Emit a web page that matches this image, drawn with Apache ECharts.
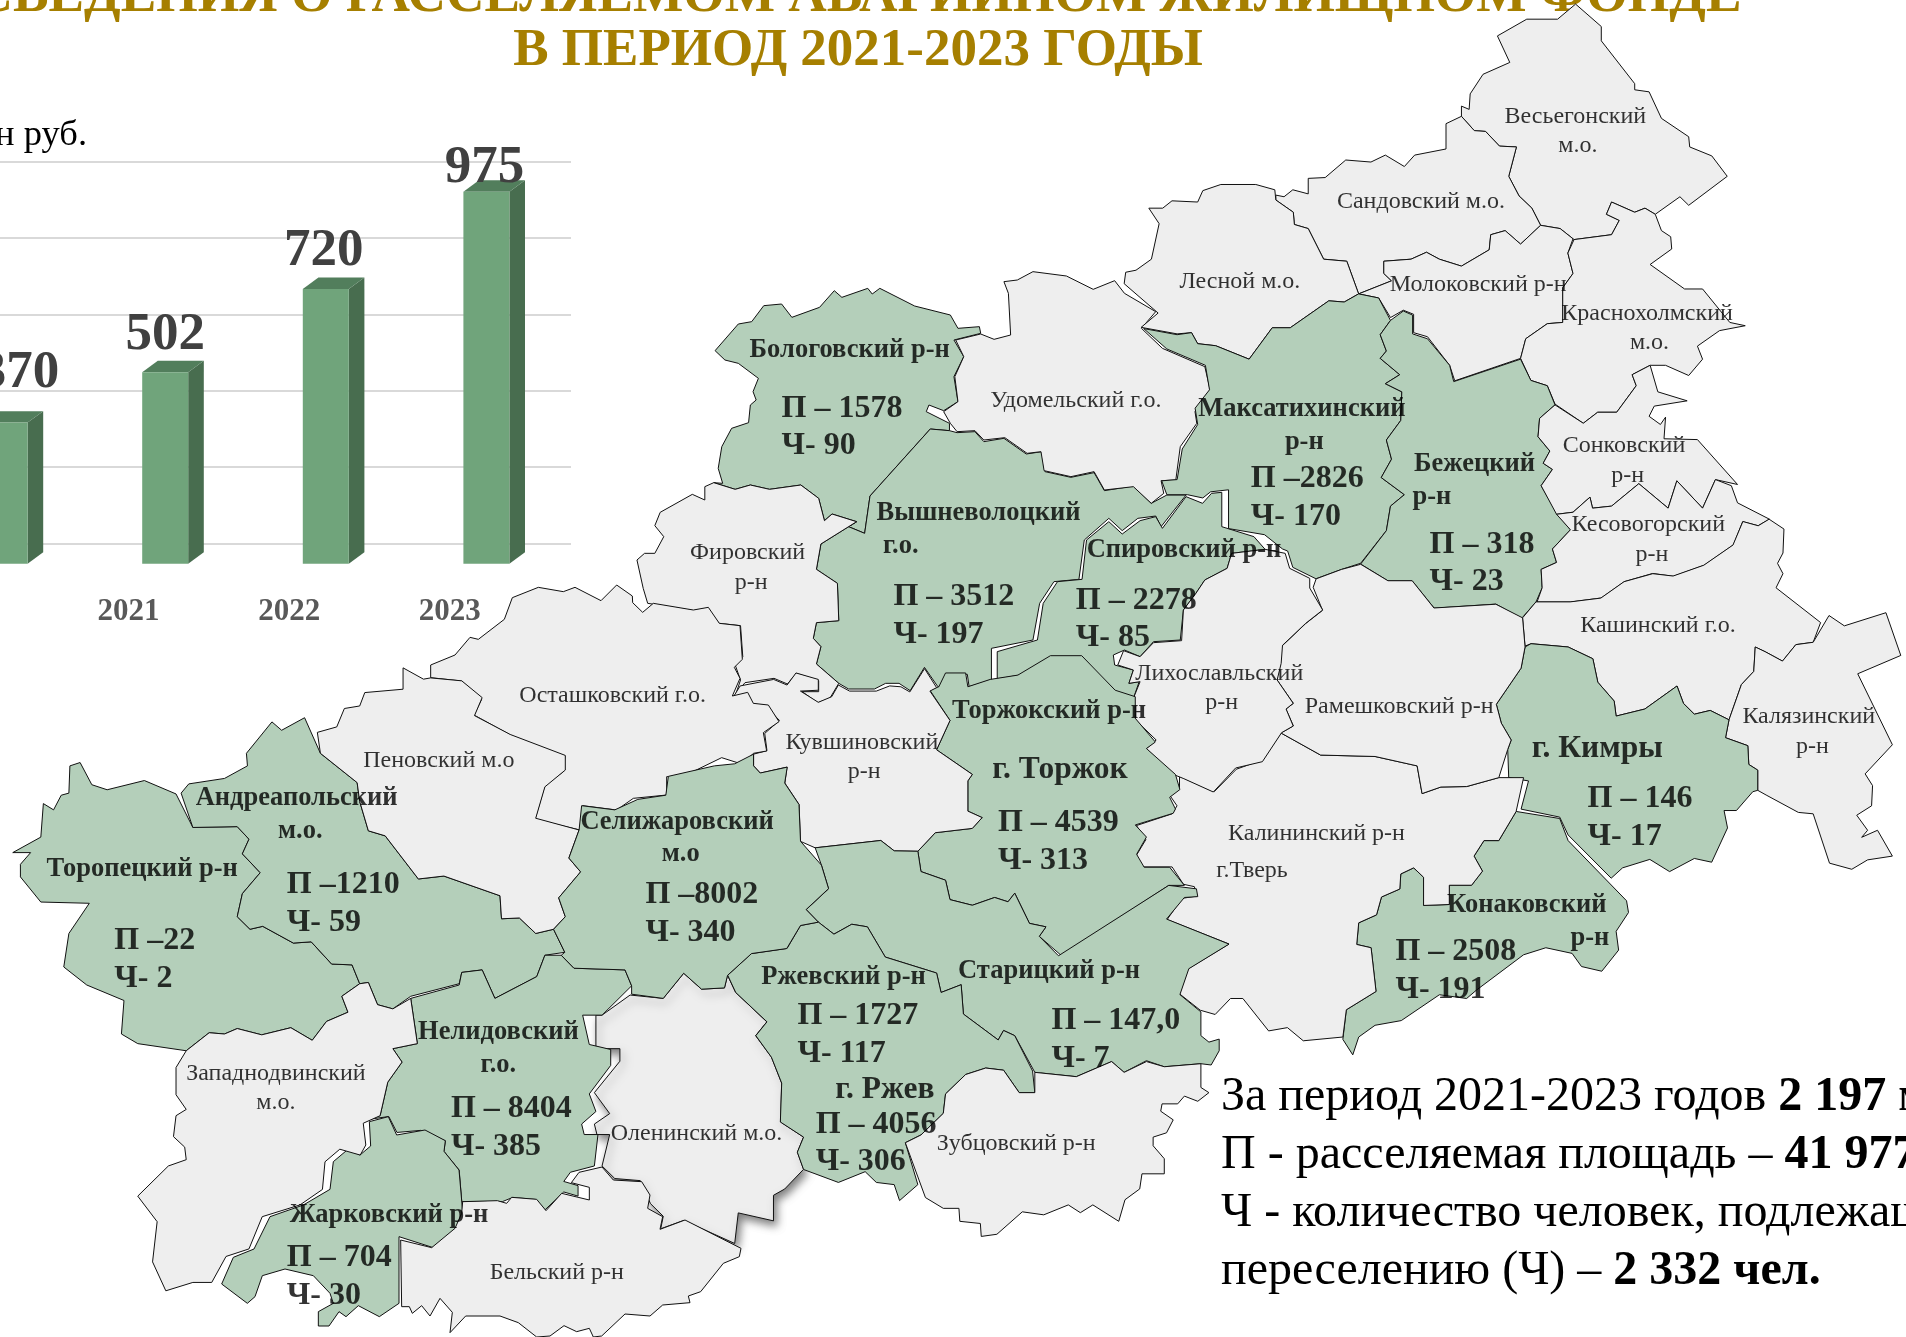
<!DOCTYPE html>
<html>
<head>
<meta charset="utf-8">
<title>Сведения о расселяемом аварийном жилищном фонде</title>
<script src="https://cdn.jsdelivr.net/npm/echarts@6/dist/echarts.min.js"></script>
<style>
html, body { margin: 0; padding: 0; background: #fff; overflow: hidden; }
#main { width: 1906px; height: 1337px; }
</style>
</head>
<body>
<div id="main"></div>
<script>
// bar chart values (млн руб.)
var years = ['2020', '2021', '2022', '2023'];
var amounts = [370, 502, 720, 975];
var amountLift = [49, 37, 37.5, 23.5];
var amountShift = [15, 0, -2, -2];
var axisTicks = [0, 200, 400, 600, 800, 1000];

// crops the outlines were traced on: [left, top, scaleX, scaleY]
var crops = {
    a: [620, 260, 2.24, 3],
    b: [1100, 0, 1.945, 2.45],
    c: [0, 680, 1.96, 2.387],
    d: [700, 660, 2.24, 2.316],
    e: [1130, 600, 2.02, 2.128],
    f: [400, 560, 3, 3],
    g: [380, 1180, 3, 3],
    h: [100, 1100, 3, 3]
};

// districts with resettled housing are green
var greenDistricts = ['Бологовский', 'Вышневолоцкий', 'Спировский', 'Максатихинский', 'Бежецкий', 'Торжокский',
    'Старицкий', 'Ржевский', 'Селижаровский', 'Андреапольский', 'Торопецкий', 'Нелидовский', 'Жарковский',
    'Кимрский', 'Конаковский'];

var outlines = {
    'Оленинский': ['c', '1168,800 1180,800 1235,752 1300,760 1340,700 1375,738 1420,735 1426,705 1442,746 1503,816 1481,849 1512,900 1532,962 1530,1055 1575,1091 1563,1127 1575,1168 1538,1215 1516,1230 1516,1291 1447,1272 1440,1345 1340,1290 1295,1310 1300,1280 1275,1250 1255,1195 1205,1190 1180,1160 1195,1085 1170,1085 1165,1060 1195,1035 1165,985 1215,910 1215,880 1168,880'],
    'Бологовский': ['a', '213,272 265,192 295,185 322,137 362,132 385,172 447,142 480,92 497,112 555,85 565,102 582,85 660,138 740,165 757,205 805,200 808,220 748,240 770,290 748,350 757,425 725,452 692,435 686,455 738,490 738,512 695,507 560,708 548,820 512,800 530,785 475,762 458,782 445,715 405,675 335,688 292,675 258,688 210,668 230,670 220,625 228,560 250,505 288,488 292,435 305,420 298,395 310,355 265,310 235,300'],
    'Вышневолоцкий': ['a', '738,512 755,518 795,515 815,545 860,535 910,582 945,575 952,635 1010,652 1062,638 1085,692 1150,678 1190,730 1225,705 1268,705 1212,800 1200,768 1160,775 1125,812 1095,775 1040,840 1028,958 972,965 940,1030 925,1140 832,1165 832,1260 782,1280 778,1243 740,1243 728,1280 712,1280 682,1222 650,1292 625,1270 595,1270 570,1287 512,1287 490,1270 440,1212 450,1160 433,1135 440,1088 490,1082 487,970 440,928 450,852 530,785 512,800 548,820 560,708 695,507'],
    'Спировский': ['a', '1215,805 1268,710 1305,730 1325,700 1348,697 1348,800 1420,830 1445,868 1370,880 1360,925 1310,960 1290,1000 1262,1050 1255,1140 1195,1145 1165,1190 1130,1170 1105,1185 1108,1215 1150,1230 1140,1270 1163,1265 1150,1315 1110,1305 1038,1198 962,1198 895,1245 845,1257 845,1175 935,1140 948,1030 980,965 1035,958 1045,840 1095,785 1125,822 1165,782 1200,770'],
    'Удомельский': ['a', '860,65 890,60 925,35 1000,48 1060,88 1108,62 1130,100 1200,155 1168,205 1215,265 1310,320 1322,390 1288,455 1292,490 1255,560 1245,660 1212,662 1218,700 1190,730 1150,680 1085,690 1062,635 1010,650 950,632 943,575 912,580 862,533 815,540 795,512 755,515 740,490 725,455 757,425 750,350 770,290 752,240 808,222 838,238 875,225 870,100'],
    'Фировский': ['a', '190,680 210,668 258,688 292,675 335,688 405,675 445,715 458,782 475,762 530,785 450,852 440,928 487,970 490,1082 440,1088 433,1135 450,1160 440,1212 490,1270 470,1315 443,1328 408,1295 445,1295 445,1262 395,1240 375,1272 345,1255 280,1268 260,1300 270,1260 258,1215 275,1190 270,1097 222,1090 195,1045 165,1052 72,1032 62,1030 52,985 38,900 55,880 78,880 98,830 78,797 90,757 162,703 190,720'],
    'Весьегонский': ['b', '703,285 703,260 718,268 720,230 745,182 797,153 773,88 830,47 890,47 925,10 975,65 975,100 1040,205 1040,220 1068,225 1092,290 1145,335 1147,360 1190,382 1220,432 1145,503 1128,482 1080,525 1060,510 1040,520 995,495 985,525 1010,540 995,575 922,587 895,560 857,552 840,510 815,480 795,432 810,360 777,358 750,322 728,320'],
    'Сандовский': ['b', '703,285 728,320 750,322 777,358 810,360 795,432 815,480 840,510 857,552 818,598 788,565 760,575 757,612 703,652 660,635 635,618 605,635 552,640 552,670 567,688 503,720 480,640 435,635 405,560 378,550 376,520 342,490 342,478 358,482 375,465 405,475 405,437 438,435 478,392 527,397 555,380 592,408 612,380 673,365 673,303'],
    'Лесной': ['b', '95,510 122,510 140,492 190,495 200,467 235,452 303,452 340,465 342,490 376,520 378,550 405,560 435,635 480,640 503,720 475,740 445,737 370,803 335,803 290,880 225,847 190,842 178,815 150,818 80,802 113,767 47,695 50,667 70,662 100,635 115,548'],
    'Молоковский': ['b', '503,720 567,688 552,670 552,640 605,635 635,618 660,635 703,652 757,612 760,575 788,565 818,598 857,552 895,560 920,585 910,620 920,670 900,705 900,790 870,793 828,830 818,878 690,933 680,895 637,825 610,815 610,770 590,760 565,778 542,730'],
    'Краснохолмский': ['b', '922,587 995,575 1010,540 985,525 995,495 1040,520 1060,510 1080,525 1092,565 1110,580 1112,610 1070,648 1137,708 1172,708 1225,790 1255,798 1205,810 1162,848 1172,880 1145,920 1100,895 1070,895 1035,918 1043,945 1005,1010 968,1010 940,1037 885,990 870,945 838,932 818,878 828,830 870,793 900,790 900,705 920,670 910,620'],
    'Максатихинский': ['b', '85,805 150,820 178,815 190,842 225,847 290,880 335,803 370,803 445,737 475,740 503,720 542,730 565,785 545,820 557,860 545,878 583,918 555,940 587,960 585,1030 557,1078 567,1125 547,1170 592,1212 565,1240 557,1300 507,1380 470,1395 420,1418 375,1390 365,1350 355,1345 320,1310 250,1295 250,1200 215,1205 200,1220 170,1212 130,1212 120,1178 150,1175 160,1100 190,1040 185,1000 213,955 205,895 130,855'],
    'Бежецкий': ['b', '565,785 590,762 608,772 608,818 637,830 680,895 688,935 818,880 838,932 870,945 885,992 855,1025 852,1070 875,1105 862,1135 880,1150 858,1190 890,1260 915,1298 880,1345 888,1378 858,1395 860,1440 848,1475 820,1515 770,1480 650,1490 607,1423 560,1423 507,1382 557,1300 565,1240 592,1212 547,1170 567,1125 557,1078 585,1030 587,960 555,940 583,918 545,878 557,860 545,820'],
    'Сонковский': ['b', '885,992 940,1037 968,1010 1005,1010 1043,945 1035,918 1070,895 1085,960 1142,982 1078,995 1068,1020 1090,1040 1100,1022 1097,1075 1162,1077 1240,1187 1197,1175 1172,1245 1122,1178 1105,1245 1048,1185 995,1240 958,1245 953,1218 920,1255 888,1260 858,1190 880,1150 862,1135 875,1105 852,1070 855,1025'],
    'Кесовогорский': ['b', '888,1260 920,1255 953,1218 958,1245 995,1240 1048,1185 1105,1245 1122,1178 1172,1245 1197,1175 1228,1190 1240,1232 1302,1272 1280,1288 1250,1278 1232,1335 1175,1385 1115,1412 1075,1405 1020,1425 975,1465 915,1475 850,1475 860,1440 858,1395 888,1378 880,1345 915,1298'],
    'Кашинский': ['e', '793,38 820,4 889,4 951,-4 998,-39 1056,-56 1097,-51 1159,-74 1218,-117 1238,-167 1269,-158 1291,-172 1321,-151 1319,-100 1308,-78 1319,-56 1305,-26 1395,48 1380,90 1345,95 1318,130 1283,110 1263,100 1260,152 1235,180 1210,255 1172,235 1140,243 1118,220 1105,183 1040,232 982,247 978,215 945,175 935,125 885,100 810,93 798,98'],
    'Калязинский': ['e', '1263,100 1283,110 1318,130 1345,95 1380,90 1412,33 1443,55 1527,27 1557,118 1470,157 1540,308 1485,370 1500,395 1498,438 1468,458 1490,490 1478,505 1510,490 1540,545 1490,553 1458,573 1413,560 1380,455 1350,452 1285,415 1268,405 1268,362 1250,350 1248,310 1203,293 1210,255 1235,180 1260,152'],
    'Кимрский': ['e', '798,100 810,93 885,100 935,125 945,175 978,215 982,247 1040,232 1105,183 1118,220 1140,243 1172,235 1210,255 1203,293 1248,310 1250,350 1268,362 1268,405 1258,408 1225,448 1200,448 1207,485 1175,558 1140,550 1090,578 1050,552 995,570 972,592 885,500 868,462 790,445 805,385 765,378 763,318 770,298 750,262 740,222 790,145'],
    'Конаковский': ['e', '780,450 868,465 885,512 1003,640 1007,665 982,705 987,745 953,790 912,780 893,752 840,740 795,755 700,830 680,848 625,840 548,895 495,905 462,930 450,968 430,935 437,872 497,833 487,740 458,733 462,687 498,670 508,632 545,615 547,583 573,570 593,590 593,650 645,648 645,607 690,607 712,577 695,545 715,512 745,512'],
    'Калининский': ['e', '100,375 170,408 215,360 268,340 305,283 385,330 495,333 580,353 590,412 628,398 680,397 745,378 795,378 780,450 745,512 715,512 695,545 712,577 690,607 645,607 645,648 593,650 593,590 573,570 547,583 545,615 508,632 498,670 462,687 458,733 487,740 497,833 437,872 430,930 350,938 318,910 280,917 228,848 203,848 172,882 142,873 100,838 117,785 200,732 75,680 105,635 135,630 130,610 108,605 85,568 25,568 12,545 32,510 13,480 85,455 95,438 80,415 100,400'],
    'Рамешковский': ['e', '376,-45 427,-65 466,-76 521,-41 570,-41 614,17 739,9 793,38 798,100 790,145 740,222 750,262 770,298 763,318 745,378 680,397 628,398 590,412 580,353 495,333 385,330 305,283 330,268 315,232 330,220 297,170 305,100 355,50 389,22 370,-27'],
    'Лихославльский': ['a', '1165,1190 1195,1148 1258,1142 1262,1050 1290,1000 1310,960 1360,925 1370,880 1445,868 1490,880 1500,925 1545,955 1545,984 1574,1050 1536,1090 1484,1156 1481,1210 1472,1260 1508,1330 1492,1347 1508,1398 1482,1418 1439,1505 1379,1524 1329,1596 1263,1556 1239,1543 1179,1466 1201,1440 1155,1380 1150,1315 1165,1265 1140,1270 1150,1230 1115,1215 1128,1172'],
    'Торжокский': ['d', '515,70 535,62 550,30 595,30 600,62 650,45 712,35 785,-10 855,-10 930,70 975,85 975,135 1020,190 1000,205 1065,265 1075,300 1052,318 1065,345 1060,355 975,382 1000,410 978,450 995,480 1052,480 1085,522 1050,522 810,685 760,640 775,618 738,610 705,540 690,560 660,550 610,568 560,555 550,510 495,490 488,443 527,400 610,390 632,365 600,350 600,280 610,265 530,208 560,140'],
    'Кувшиновский': ['d', '310,58 335,72 395,72 425,60 450,62 470,74 503,20 530,64 515,72 560,140 530,208 610,265 600,280 600,350 632,365 610,390 527,400 488,443 435,442 405,418 258,435 225,420 222,335 190,285 195,248 135,262 120,245 120,218 150,210 145,170 178,140 145,105 108,100 75,85 90,60 165,45 195,58 215,30 265,45 265,70 225,72 265,98 295,85'],
    'Старицкий': ['d', '258,435 405,418 435,442 488,443 495,490 550,510 560,555 610,568 660,550 690,560 705,540 738,610 775,618 760,640 803,685 1050,522 1112,530 1115,548 1085,550 1045,600 1185,658 1095,715 1075,775 1122,815 1122,870 1140,885 1163,878 1163,905 1145,938 1122,935 1040,942 1000,928 950,955 922,930 843,965 750,955 705,870 680,858 668,880 590,820 585,752 540,770 530,725 415,688 375,618 340,612 300,635 265,607 238,578 288,530 272,475'],
    'Ржевский': ['d', '62,730 115,680 195,668 225,615 265,607 300,635 340,612 375,618 415,688 530,725 540,770 585,752 590,820 668,880 680,858 705,870 745,952 750,1002 715,1002 680,950 640,945 595,960 550,1005 545,1050 495,1100 460,1118 488,1215 447,1252 435,1215 395,1210 370,1185 310,1210 232,1180 218,1140 232,1105 180,1070 183,980 160,920 125,870 150,838 80,770'],
    'Зубцовский': ['d', '750,955 843,965 922,930 950,955 1000,930 1040,942 1122,935 1122,990 1140,1002 1115,1022 1085,1010 1070,1028 1035,1028 1032,1045 1060,1065 1045,1095 1015,1105 1015,1125 1040,1155 1040,1190 990,1190 985,1225 952,1250 938,1300 880,1262 852,1280 825,1262 770,1285 722,1278 665,1330 630,1335 628,1305 582,1300 580,1270 545,1270 505,1245 460,1118 495,1100 545,1050 550,1005 595,960 640,945 680,950 715,1002 750,1002'],
    'Торопецкий': ['c', '25,412 80,375 85,295 105,310 120,275 135,270 137,205 157,197 180,250 210,262 283,240 345,272 378,352 465,350 488,380 475,415 510,460 475,510 465,565 490,595 515,588 575,628 610,625 650,678 690,680 705,725 670,755 682,793 640,815 612,860 570,830 513,847 465,832 440,845 410,842 365,885 270,868 238,845 243,765 170,728 125,685 135,605 175,533 80,530 40,470 40,440 60,412'],
    'Андреапольский': ['c', '355,270 370,248 440,235 485,205 483,175 533,100 552,120 597,90 628,175 700,245 705,290 722,360 755,372 820,475 870,468 980,515 983,570 1018,568 1050,605 1085,595 1107,650 1068,657 1052,708 970,760 945,692 905,698 900,725 805,755 770,785 740,775 722,722 705,725 690,680 650,678 610,625 575,628 515,588 490,595 465,565 475,510 510,460 475,415 488,380 465,350 378,352'],
    'Нелидовский': ['c', '805,760 900,728 905,698 945,692 970,760 1052,708 1068,657 1100,657 1125,688 1225,692 1238,730 1180,800 1142,800 1155,870 1197,882 1197,920 1155,988 1168,1030 1140,1060 1145,1085 1172,1085 1165,1160 1118,1175 1105,1197 1133,1207 1133,1232 1105,1222 1068,1265 1050,1240 1005,1235 985,1245 905,1245 900,1170 870,1125 873,1100 825,1075 778,1080 762,1042 715,1050 745,1040 760,960 788,912 770,880 818,868'],
    'Жарковский': ['h', '365,552 400,472 462,447 510,350 610,315 690,268 700,185 745,147 780,165 812,138 808,65 865,50 890,105 975,90 1036,122 1032,154 1077,210 1088,336 1085,386 1000,443 897,410 897,610 838,650 775,617 738,650 717,635 687,678 655,678 655,635 700,610 690,580 640,527 555,507 487,527 465,590 442,610'],
    'Западнодвинский': ['c', '365,885 410,842 440,845 465,832 513,847 570,830 612,860 640,815 682,793 670,755 705,725 722,722 740,775 770,785 805,760 818,868 770,880 788,912 760,960 745,1040 712,1058 717,1110 706,1134 666,1120 637,1150 632,1216 588,1253 514,1281 488,1358 443,1376 415,1438 378,1438 325,1458 299,1389 308,1293 270,1232 330,1160 365,1145 362,1115 340,1090 345,1040 365,1025 345,990 345,925'],
    'Бельский': ['g', '248,65 352,62 380,70 395,52 470,58 498,92 545,40 628,60 628,22 574,8 597,-23 666,-39 700,0 785,5 810,45 803,85 848,110 840,148 915,120 1083,205 1078,230 1030,250 962,335 925,348 930,368 848,375 810,408 735,402 665,468 640,471 628,445 590,455 552,437 510,468 470,471 415,428 360,408 257,408 210,458 217,397 180,355 150,408 125,377 97,400 88,380 65,380 62,180 155,203 225,145 245,100'],
    'Осташковский': ['f', '92,315 165,285 210,232 235,238 313,178 337,113 415,82 490,95 525,82 603,122 650,75 697,108 698,128 728,157 760,130 880,150 925,142 958,190 1020,197 1027,298 1003,322 1020,355 997,408 1043,397 1060,430 1105,435 1137,485 1090,518 1100,573 1060,580 1028,613 965,593 848,650 800,650 800,705 700,715 650,750 548,737 540,810 405,778 435,675 490,635 495,588 395,560 222,465 245,418 185,363 92,353'],
    'Пеновский': ['c', '622,125 660,112 675,68 705,62 715,30 790,22 790,-29 830,-2 844,-5 905,2 945,42 930,85 1000,130 1108,180 1108,215 1068,255 1050,330 1135,358 1115,425 1138,458 1095,520 1108,565 1085,595 1050,605 1018,568 983,570 980,515 870,468 820,475 755,372 722,360 705,290 700,245 628,175'],
    'Селижаровский': ['c', '1140,300 1205,310 1250,285 1305,275 1310,230 1400,205 1440,200 1477,177 1477,205 1490,222 1543,208 1538,246 1566,297 1569,385 1610,442 1624,498 1580,548 1604,578 1569,586 1542,641 1473,653 1426,705 1420,735 1375,738 1340,700 1300,760 1238,750 1238,730 1225,692 1125,688 1100,657 1107,650 1085,595 1108,565 1095,520 1138,458 1115,425 1135,358']
};

// map captions, in the coordinates of the 1568 wide view: [text, x, y]
var plainLabels = [
    ['Весьегонский', 1296, 95], ['м.о.', 1298, 119], ['Сандовский м.о.', 1169, 165], ['Лесной м.о.', 1020, 231],
    ['Молоковский р-н', 1216, 233], ['Краснохолмский', 1355, 257], ['м.о.', 1357, 281], ['Удомельский г.о.', 885, 329],
    ['Сонковский', 1336, 366], ['р-н', 1339, 390], ['Кесовогорский', 1356, 431], ['р-н', 1359, 455],
    ['Кашинский г.о.', 1364, 514], ['Калязинский', 1488, 589], ['р-н', 1491, 613], ['Фировский', 615, 454],
    ['р-н', 618, 478], ['Лихославльский', 1003, 553], ['р-н', 1005, 577], ['Рамешковский р-н', 1151, 580],
    ['Осташковский г.о.', 504, 571], ['Кувшиновский', 709, 610], ['р-н', 711, 634], ['Пеновский м.о', 361, 625],
    ['Калининский р-н', 1083, 685], ['г.Тверь', 1030, 715], ['Западнодвинский', 227, 882], ['м.о.', 227, 906],
    ['Оленинский м.о.', 573, 932], ['Зубцовский р-н', 836, 940], ['Бельский р-н', 458, 1046]
];
var boldLabels = [
    ['Бологовский р-н', 699, 287], ['Максатихинский', 1071, 336], ['р-н', 1073, 363], ['Бежецкий', 1213, 381],
    ['р-н', 1178, 408], ['Вышневолоцкий', 805, 421], ['г.о.', 741, 448], ['Спировский р-н', 974, 452],
    ['Торжокский р-н', 863, 584], ['Андреапольский', 244, 656], ['м.о.', 247, 683], ['Селижаровский', 557, 675],
    ['м.о', 560, 702], ['Торопецкий р-н', 117, 714], ['Конаковский', 1256, 744], ['р-н', 1308, 771],
    ['Ржевский р-н', 694, 803], ['Старицкий р-н', 863, 798], ['Нелидовский', 410, 848], ['г.о.', 410, 875],
    ['Жарковский р-н', 320, 999]
];
var cityLabels = [['г. Торжок', 872, 631], ['г. Кимры', 1314, 614], ['г. Ржев', 728, 895]];
var figureLabels = [
    ['П – 1578', 643, 334], ['Ч- 90', 643, 365], ['П –2826', 1029, 392], ['Ч- 170', 1029, 423],
    ['П – 318', 1176, 446], ['Ч- 23', 1176, 477], ['П – 3512', 735, 489], ['Ч- 197', 735, 520],
    ['П – 2278', 885, 492], ['Ч- 85', 885, 523], ['П – 4539', 821, 675], ['Ч- 313', 821, 706],
    ['П – 146', 1306, 655], ['Ч- 17', 1306, 686], ['П –1210', 236, 726], ['Ч- 59', 236, 757],
    ['П –8002', 531, 734], ['Ч- 340', 531, 765], ['П –22', 94, 772], ['Ч- 2', 94, 803],
    ['П – 2508', 1148, 781], ['Ч- 191', 1148, 812], ['П – 1727', 656, 834], ['Ч- 117', 656, 865],
    ['П – 147,0', 865, 838], ['Ч- 7', 865, 869], ['П – 4056', 671, 923], ['Ч- 306', 671, 954],
    ['П – 8404', 371, 910], ['Ч- 385', 371, 941], ['П – 704', 236, 1033], ['Ч- 30', 236, 1064]
];

var SERIF = '"Liberation Serif", serif';
var VIEW = 1906 / 1568;

function outlineToRing(entry) {
    var crop = crops[entry[0]];
    var ring = entry[1].split(' ').map(function (pair) {
        var p = pair.split(',');
        return [crop[0] + p[0] / crop[2], -(crop[1] + p[1] / crop[3])];
    });
    ring.push(ring[0]);
    return ring;
}

var features = Object.keys(outlines).map(function (name) {
    return {
        type: 'Feature',
        properties: { name: name },
        geometry: { type: 'Polygon', coordinates: [outlineToRing(outlines[name])] }
    };
});
echarts.registerMap('tver', { type: 'FeatureCollection', features: features });

function labelPoints(list, nudge) {
    return list.map(function (item) {
        return { name: item[0], value: [item[1] * VIEW, -(item[2] * VIEW + nudge)] };
    });
}

function labelSeries(list, size, bold, align, nudge) {
    return {
        type: 'scatter',
        coordinateSystem: 'geo',
        geoIndex: 0,
        symbolSize: 0,
        silent: true,
        z: 5,
        data: labelPoints(list, nudge),
        label: {
            show: true,
            position: 'inside',
            formatter: '{b}',
            align: align,
            verticalAlign: 'middle',
            fontFamily: SERIF,
            fontSize: size,
            fontWeight: bold ? 'bold' : 'normal',
            color: '#000'
        }
    };
}

// front, side and top faces of a column, the boxes in the picture are drawn in 3D
function renderBar(params, api) {
    var idx = api.value(0);
    var val = api.value(1);
    var top = api.coord([idx, val]);
    var base = api.coord([idx, 0]);
    var cx = top[0] + 36.6;
    var half = 23;
    var dx = 15.6;
    var dy = 11.4;
    var left = cx - half;
    var right = cx + half;
    return {
        type: 'group',
        children: [
            { type: 'polygon', shape: { points: [[right, top[1]], [right + dx, top[1] - dy], [right + dx, base[1] - dy], [right, base[1]]] }, style: { fill: '#486d4f' } },
            { type: 'polygon', shape: { points: [[left, top[1]], [left + dx, top[1] - dy], [right + dx, top[1] - dy], [right, top[1]]] }, style: { fill: '#527e5c' } },
            { type: 'rect', shape: { x: left, y: top[1], width: right - left, height: base[1] - top[1] }, style: { fill: '#70a47b' } },
            {
                type: 'text',
                style: {
                    text: String(val),
                    x: cx + amountShift[params.dataIndex],
                    y: top[1] - amountLift[params.dataIndex],
                    align: 'center',
                    verticalAlign: 'middle',
                    font: 'bold 53px ' + SERIF,
                    fill: '#404040'
                }
            }
        ]
    };
}

var myChart = echarts.init(document.getElementById('main'), null, { renderer: 'canvas' });

var option = {
    animation: false,
    backgroundColor: '#fff',
    grid: [
        { left: -20, top: 161.6, width: 591, height: 381.7, outerBoundsMode: 'none' },
        { left: -112.3, top: 182.2, width: 642.4, height: 381.5, outerBoundsMode: 'none' }
    ],
    xAxis: [
        { gridIndex: 0, type: 'category', data: years, show: false },
        {
            gridIndex: 1,
            type: 'category',
            data: years,
            axisLine: { show: false },
            axisTick: { show: false },
            axisLabel: { interval: 0, margin: 33, fontFamily: SERIF, fontWeight: 'bold', fontSize: 31, color: '#595959' }
        }
    ],
    yAxis: [
        {
            gridIndex: 0,
            type: 'value',
            min: axisTicks[0],
            max: axisTicks[axisTicks.length - 1],
            interval: axisTicks[1],
            axisLine: { show: false },
            axisTick: { show: false },
            axisLabel: { show: false },
            splitLine: { lineStyle: { color: '#d9d9d9', width: 2 } }
        },
        {
            gridIndex: 1,
            type: 'value',
            min: axisTicks[0],
            max: axisTicks[axisTicks.length - 1],
            show: false
        }
    ],
    geo: {
        map: 'tver',
        left: 0,
        top: 0,
        width: 1906,
        height: 1337,
        aspectScale: 1,
        boundingCoords: [[0, 0], [1906, -1337]],
        roam: false,
        silent: true,
        label: { show: false },
        itemStyle: { areaColor: '#eeeeee', borderColor: '#111', borderWidth: 1 },
        regions: greenDistricts.map(function (name) {
            return { name: name, itemStyle: { areaColor: '#b4cfba' } };
        }).concat([{
            name: 'Оленинский',
            itemStyle: { shadowColor: 'rgba(0,0,0,0.5)', shadowBlur: 8, shadowOffsetX: 3, shadowOffsetY: 5 }
        }])
    },
    series: [
        {
            type: 'custom',
            xAxisIndex: 1,
            yAxisIndex: 1,
            renderItem: renderBar,
            encode: { x: 0, y: 1 },
            data: amounts.map(function (v, i) { return [i, v]; }),
            clip: false
        },
        labelSeries(plainLabels, 24, false, 'center', 1.2),
        labelSeries(boldLabels, 26.5, true, 'center', 1.2),
        labelSeries(cityLabels, 31.5, true, 'center', 2.4),
        labelSeries(figureLabels, 32, true, 'left', 2.4)
    ],
    graphic: [
        { type: 'text', style: { x: 858, y: 23.6, text: 'СВЕДЕНИЯ О РАССЕЛЯЕМОМ АВАРИЙНОМ ЖИЛИЩНОМ ФОНДЕ', align: 'center', verticalAlign: 'bottom', font: 'bold 53.3px ' + SERIF, fill: '#a67f00' } },
        { type: 'text', style: { x: 858, y: 78, text: 'В ПЕРИОД 2021-2023 ГОДЫ', align: 'center', verticalAlign: 'bottom', font: 'bold 53px ' + SERIF, fill: '#a67f00' } },
        { type: 'text', style: { x: 87, y: 135, text: 'млн руб.', align: 'right', verticalAlign: 'middle', font: '36.5px ' + SERIF, fill: '#000' } },
        {
            type: 'text',
            style: {
                x: 1221,
                y: 1097.6,
                text: '{n|За период 2021-2023 годов }{b|2 197 млн руб.}',
                verticalAlign: 'middle',
                rich: { n: { font: '48px ' + SERIF, fill: '#000' }, b: { font: 'bold 48px ' + SERIF, fill: '#000' } }
            }
        },
        {
            type: 'text',
            style: {
                x: 1221,
                y: 1155.6,
                text: '{n|П - расселяемая площадь – }{b|41 977 кв. м}',
                verticalAlign: 'middle',
                rich: { n: { font: '48px ' + SERIF, fill: '#000' }, b: { font: 'bold 48px ' + SERIF, fill: '#000' } }
            }
        },
        { type: 'text', style: { x: 1221, y: 1213.6, text: 'Ч - количество человек, подлежащих', verticalAlign: 'middle', font: '48px ' + SERIF, fill: '#000' } },
        {
            type: 'text',
            style: {
                x: 1221,
                y: 1271.6,
                text: '{n|переселению (Ч) – }{b|2 332 чел.}',
                verticalAlign: 'middle',
                rich: { n: { font: '48px ' + SERIF, fill: '#000' }, b: { font: 'bold 48px ' + SERIF, fill: '#000' } }
            }
        }
    ]
};

myChart.setOption(option);
window.addEventListener('resize', myChart.resize);
</script>
</body>
</html>
